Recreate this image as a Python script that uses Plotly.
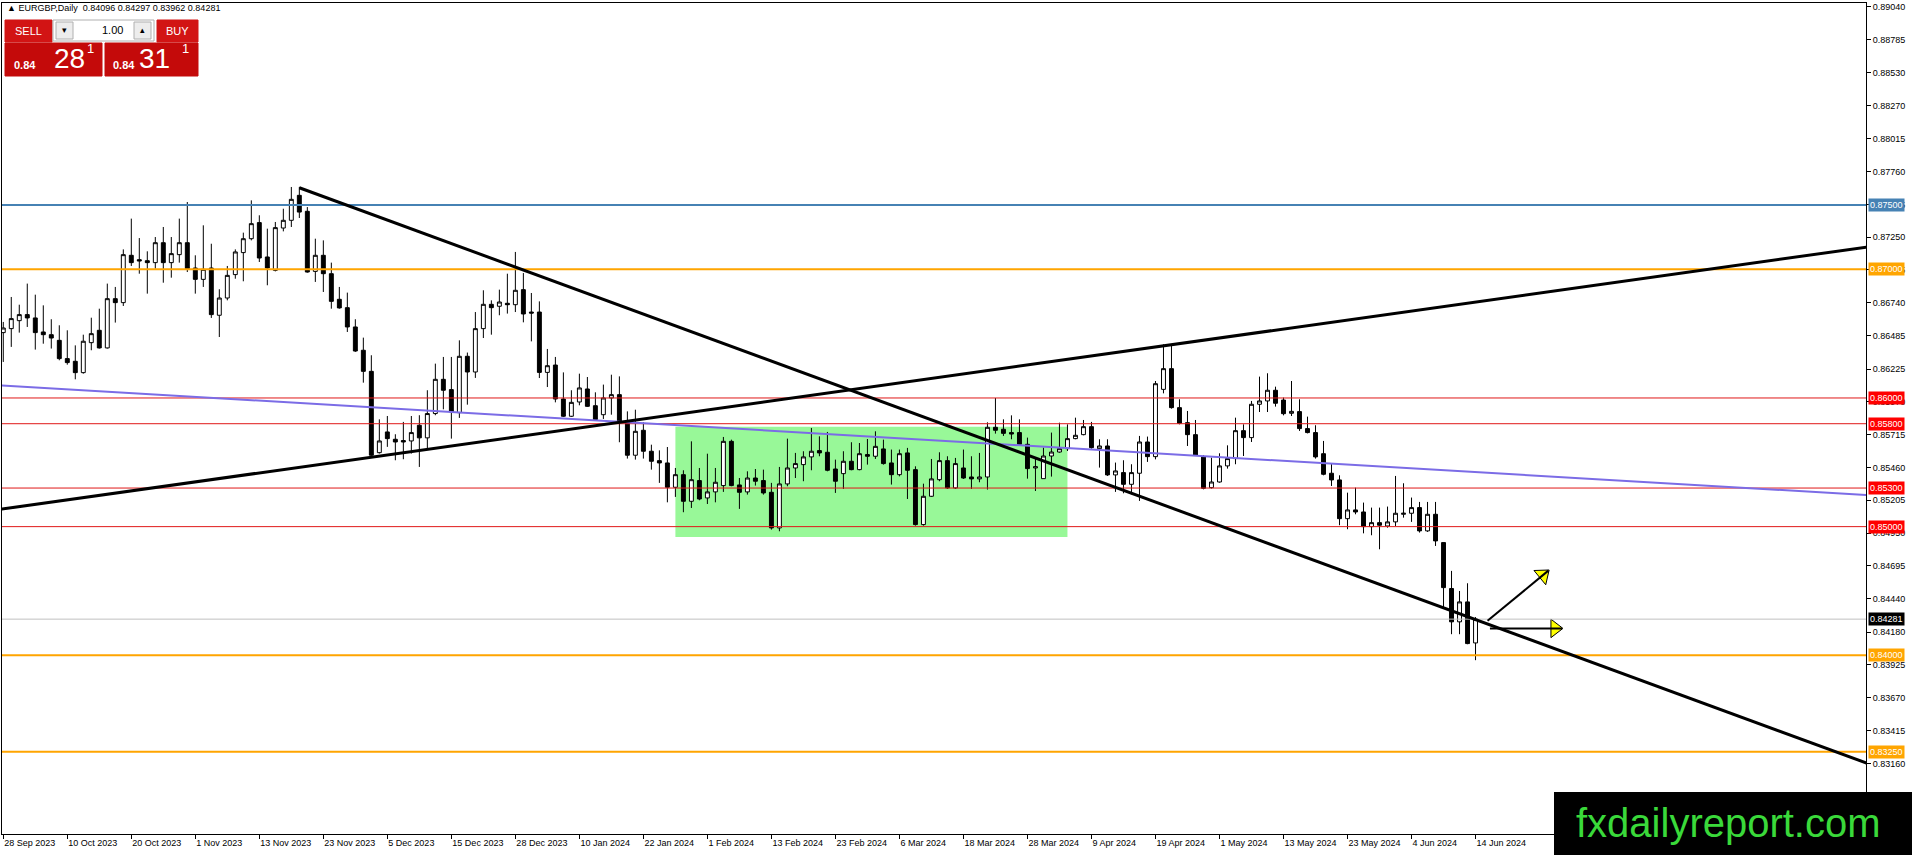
import math
import plotly.graph_objects as go

# EURGBP daily candles, 28 Sep 2023 .. 14 Jun 2024
opens = [
    0.86508, 0.86539, 0.86601, 0.86648, 0.86622, 0.86513, 0.86492, 0.86448, 0.86306, 0.86285,
    0.86197, 0.86430, 0.86526, 0.86389, 0.86772, 0.86741, 0.87109, 0.87075, 0.87067, 0.87052,
    0.87207, 0.87052, 0.87114, 0.87207, 0.87010, 0.86922, 0.87010, 0.86643, 0.86777, 0.86959,
    0.87130, 0.87238, 0.87363, 0.87096, 0.86992, 0.87321, 0.87381, 0.87575, 0.87451, 0.86984,
    0.87109, 0.86966, 0.86767, 0.86702, 0.86552, 0.86371, 0.86207, 0.85575, 0.85736, 0.85679,
    0.85669, 0.85666, 0.85788, 0.85690, 0.85879, 0.86145, 0.86065, 0.85886, 0.86324, 0.86202,
    0.86539, 0.86728, 0.86713, 0.86736, 0.86725, 0.86842, 0.86668, 0.86668, 0.86199, 0.86256,
    0.85992, 0.85858, 0.85969, 0.86070, 0.85940, 0.85870, 0.86000, 0.86026, 0.85806, 0.85555,
    0.85749, 0.85586, 0.85513, 0.85495, 0.85306, 0.85404, 0.85197, 0.85358, 0.85223, 0.85270,
    0.85319, 0.85663, 0.85324, 0.85270, 0.85378, 0.85358, 0.85267, 0.84990, 0.85332, 0.85456,
    0.85482, 0.85542, 0.85591, 0.85578, 0.85448, 0.85412, 0.85508, 0.85443, 0.85560, 0.85547,
    0.85604, 0.85495, 0.85404, 0.85573, 0.85443, 0.85016, 0.85236, 0.85365, 0.85513, 0.85301,
    0.85456, 0.85386, 0.85371, 0.85386, 0.85772, 0.85757, 0.85731, 0.85731, 0.85640, 0.85456,
    0.85373, 0.85549, 0.85580, 0.85606, 0.85684, 0.85715, 0.85777, 0.85606, 0.85627, 0.85402,
    0.85420, 0.85329, 0.85415, 0.85658, 0.85544, 0.86067, 0.86228, 0.85925, 0.85808, 0.85715,
    0.85544, 0.85303, 0.85347, 0.85472, 0.85529, 0.85746, 0.85692, 0.85951, 0.85977, 0.86060,
    0.85984, 0.85881, 0.85894, 0.85762, 0.85731, 0.85567, 0.85415, 0.85363, 0.85062, 0.85130,
    0.85114, 0.85000, 0.85031, 0.85005, 0.85037, 0.85096, 0.85104, 0.85148, 0.84967, 0.85096,
    0.84876, 0.84519, 0.84260, 0.84415, 0.84096,
]
highs = [
    0.86591, 0.86785, 0.86725, 0.86889, 0.86803, 0.86720, 0.86612, 0.86565, 0.86526, 0.86409,
    0.86492, 0.86624, 0.86694, 0.86889, 0.86863, 0.87155, 0.87394, 0.87243, 0.87140, 0.87251,
    0.87329, 0.87251, 0.87394, 0.87523, 0.87109, 0.87342, 0.87199, 0.86845, 0.87026, 0.87155,
    0.87285, 0.87536, 0.87420, 0.87316, 0.87368, 0.87471, 0.87640, 0.87640, 0.87484, 0.87238,
    0.87225, 0.87052, 0.86863, 0.86819, 0.86612, 0.86469, 0.86332, 0.85834, 0.85860, 0.85718,
    0.85814, 0.85860, 0.85866, 0.86060, 0.86267, 0.86319, 0.86319, 0.86448, 0.86353, 0.86668,
    0.86837, 0.86759, 0.86842, 0.86966, 0.87135, 0.86971, 0.86816, 0.86751, 0.86381, 0.86319,
    0.86199, 0.86060, 0.86189, 0.86163, 0.86044, 0.86104, 0.86181, 0.86168, 0.85896, 0.85909,
    0.85811, 0.85637, 0.85593, 0.85619, 0.85456, 0.85438, 0.85663, 0.85456, 0.85567, 0.85456,
    0.85697, 0.85676, 0.85378, 0.85430, 0.85448, 0.85443, 0.85340, 0.85464, 0.85684, 0.85573,
    0.85586, 0.85767, 0.85702, 0.85736, 0.85521, 0.85586, 0.85656, 0.85650, 0.85681, 0.85741,
    0.85676, 0.85599, 0.85599, 0.85612, 0.85469, 0.85334, 0.85526, 0.85578, 0.85547, 0.85534,
    0.85599, 0.85547, 0.85573, 0.85811, 0.86000, 0.85834, 0.85865, 0.85834, 0.85692, 0.85536,
    0.85614, 0.85731, 0.85808, 0.85795, 0.85847, 0.85829, 0.85814, 0.85679, 0.85679, 0.85498,
    0.85516, 0.85485, 0.85705, 0.85700, 0.86132, 0.86417, 0.86417, 0.85990, 0.85899, 0.85829,
    0.85555, 0.85536, 0.85570, 0.85632, 0.85847, 0.85795, 0.85977, 0.86166, 0.86192, 0.86088,
    0.86003, 0.86132, 0.85990, 0.85855, 0.85788, 0.85666, 0.85492, 0.85399, 0.85264, 0.85303,
    0.85187, 0.85148, 0.85148, 0.85156, 0.85394, 0.85337, 0.85226, 0.85192, 0.85192, 0.85192,
    0.84876, 0.84656, 0.84500, 0.84560, 0.84297,
]
lows = [
    0.86280, 0.86397, 0.86508, 0.86552, 0.86376, 0.86422, 0.86384, 0.86293, 0.86259, 0.86145,
    0.86189, 0.86371, 0.86384, 0.86384, 0.86586, 0.86715, 0.87026, 0.86966, 0.86811, 0.87005,
    0.86896, 0.86935, 0.87052, 0.86979, 0.86811, 0.86863, 0.86622, 0.86474, 0.86759, 0.86927,
    0.86907, 0.87225, 0.87057, 0.86876, 0.86984, 0.87295, 0.87329, 0.87399, 0.86974, 0.86902,
    0.86824, 0.86694, 0.86694, 0.86513, 0.86358, 0.86119, 0.85542, 0.85568, 0.85620, 0.85516,
    0.85524, 0.85568, 0.85464, 0.85601, 0.85866, 0.85912, 0.85684, 0.85845, 0.85948, 0.86156,
    0.86466, 0.86492, 0.86643, 0.86656, 0.86668, 0.86588, 0.86440, 0.86155, 0.86085, 0.85966,
    0.85852, 0.85852, 0.85943, 0.85930, 0.85826, 0.85837, 0.85870, 0.85656, 0.85529, 0.85521,
    0.85529, 0.85443, 0.85340, 0.85189, 0.85231, 0.85112, 0.85145, 0.85205, 0.85176, 0.85189,
    0.85270, 0.85314, 0.85138, 0.85249, 0.85319, 0.85249, 0.84977, 0.84964, 0.85314, 0.85378,
    0.85353, 0.85438, 0.85547, 0.85430, 0.85262, 0.85293, 0.85438, 0.85438, 0.85482, 0.85526,
    0.85482, 0.85327, 0.85391, 0.85215, 0.85008, 0.85008, 0.85231, 0.85353, 0.85293, 0.85293,
    0.85371, 0.85293, 0.85345, 0.85288, 0.85723, 0.85705, 0.85679, 0.85627, 0.85373, 0.85277,
    0.85373, 0.85389, 0.85575, 0.85588, 0.85679, 0.85710, 0.85606, 0.85459, 0.85394, 0.85270,
    0.85259, 0.85251, 0.85200, 0.85503, 0.85523, 0.86036, 0.85917, 0.85795, 0.85627, 0.85549,
    0.85290, 0.85296, 0.85342, 0.85451, 0.85485, 0.85549, 0.85658, 0.85891, 0.85891, 0.85933,
    0.85865, 0.85860, 0.85744, 0.85725, 0.85529, 0.85399, 0.85316, 0.85011, 0.84980, 0.85096,
    0.84948, 0.84933, 0.84824, 0.84992, 0.85005, 0.85070, 0.85037, 0.84954, 0.84959, 0.84850,
    0.84363, 0.84164, 0.84164, 0.84086, 0.83962,
]
closes = [
    0.86544, 0.86617, 0.86648, 0.86622, 0.86508, 0.86492, 0.86466, 0.86306, 0.86275, 0.86197,
    0.86441, 0.86500, 0.86389, 0.86772, 0.86741, 0.87114, 0.87052, 0.87065, 0.87052, 0.87207,
    0.87052, 0.87122, 0.87207, 0.87005, 0.86922, 0.87000, 0.86648, 0.86777, 0.86953, 0.87135,
    0.87238, 0.87355, 0.87088, 0.87010, 0.87324, 0.87381, 0.87544, 0.87445, 0.86979, 0.87109,
    0.86966, 0.86751, 0.86700, 0.86552, 0.86365, 0.86207, 0.85555, 0.85666, 0.85684, 0.85658,
    0.85658, 0.85731, 0.85690, 0.85879, 0.86145, 0.86060, 0.85891, 0.86324, 0.86202, 0.86539,
    0.86728, 0.86702, 0.86746, 0.86725, 0.86837, 0.86653, 0.86660, 0.86199, 0.86251, 0.85992,
    0.85858, 0.85966, 0.86078, 0.85935, 0.85832, 0.86000, 0.86026, 0.85819, 0.85555, 0.85741,
    0.85586, 0.85508, 0.85495, 0.85306, 0.85404, 0.85197, 0.85365, 0.85215, 0.85270, 0.85345,
    0.85663, 0.85319, 0.85267, 0.85378, 0.85353, 0.85262, 0.84990, 0.85332, 0.85456, 0.85490,
    0.85542, 0.85586, 0.85573, 0.85438, 0.85353, 0.85508, 0.85443, 0.85567, 0.85547, 0.85624,
    0.85490, 0.85404, 0.85567, 0.85438, 0.85016, 0.85236, 0.85371, 0.85513, 0.85301, 0.85490,
    0.85378, 0.85371, 0.85386, 0.85772, 0.85749, 0.85725, 0.85720, 0.85640, 0.85451, 0.85466,
    0.85549, 0.85580, 0.85606, 0.85684, 0.85710, 0.85777, 0.85614, 0.85627, 0.85402, 0.85433,
    0.85329, 0.85420, 0.85658, 0.85544, 0.86111, 0.86228, 0.85925, 0.85803, 0.85715, 0.85555,
    0.85298, 0.85347, 0.85472, 0.85529, 0.85746, 0.85692, 0.85951, 0.85977, 0.86060, 0.85959,
    0.85878, 0.85896, 0.85762, 0.85731, 0.85542, 0.85407, 0.85363, 0.85062, 0.85130, 0.85114,
    0.85000, 0.85031, 0.85011, 0.85037, 0.85104, 0.85104, 0.85148, 0.84967, 0.85096, 0.84889,
    0.84526, 0.84260, 0.84415, 0.84091, 0.84281,
]

date_labels = [
    "28 Sep 2023", "10 Oct 2023", "20 Oct 2023", "1 Nov 2023", "13 Nov 2023", "23 Nov 2023",
    "5 Dec 2023", "15 Dec 2023", "28 Dec 2023", "10 Jan 2024", "22 Jan 2024", "1 Feb 2024",
    "13 Feb 2024", "23 Feb 2024", "6 Mar 2024", "18 Mar 2024", "28 Mar 2024", "9 Apr 2024",
    "19 Apr 2024", "1 May 2024", "13 May 2024", "23 May 2024", "4 Jun 2024", "14 Jun 2024",
]
bars_per_label = 8

price_ticks = [
    0.83160, 0.83415, 0.83670, 0.83925, 0.84180, 0.84440, 0.84695, 0.84950, 0.85205, 0.85460,
    0.85715, 0.85970, 0.86225, 0.86485, 0.86740, 0.86995, 0.87250, 0.87505, 0.87760, 0.88015,
    0.88270, 0.88530, 0.88785, 0.89040,
]

# horizontal levels drawn on the chart
levels = [0.87500, 0.87000, 0.86000, 0.85800, 0.85300, 0.85000, 0.84000, 0.83250]
level_colors = ["#4682B4", "#FFA500", "#E01818", "#E01818", "#E01818", "#E01818", "#FFA500", "#FFA500"]
level_widths = [2, 2, 1, 1, 1, 1, 2, 2]
level_label_bg = ["#4682B4", "#FFA500", "#FF0000", "#FF0000", "#FF0000", "#FF0000", "#FFA500", "#FFA500"]
bid_price = 0.84281

# trend lines: two anchor points each (bar index, price)
down_trend = [(37, 0.87634), (184, 0.84278)]
up_trend = [(46, 0.85540), (145, 0.86405)]
slope_line = [(0, 0.86096), (184, 0.85424)]

# consolidation box: bar from, bar to, price low, price high
range_box = [84, 133, 0.84920, 0.85777]

# projection arrows: start and tip (bar index, price)
arrow_up = [(185.5, 0.84268), (193.1, 0.84658)]
arrow_flat = [(185.8, 0.84209), (194.8, 0.84209)]

W, H = 1912, 855
ML, MR, MT, MB = 2, 46, 3, 21
x_range = [-0.16, 232.8]
y_range = [0.82611, 0.89070]
px_per_bar = (W - ML - MR) / (x_range[1] - x_range[0])
px_per_price = (H - MT - MB) / (y_range[1] - y_range[0])


def paper_x(px):
    return (px - ML) / (W - ML - MR)


def paper_y(py):
    return (H - MB - py) / (H - MT - MB)


def extend(line, x0, x1):
    (a, pa), (b, pb) = line
    k = (pb - pa) / (b - a)
    return x0, pa + k * (x0 - a), x1, pa + k * (x1 - a)


font = "Liberation Sans, Arial, sans-serif"
bars = list(range(len(opens)))

fig = go.Figure()
fig.add_trace(go.Candlestick(
    x=bars, open=opens, high=highs, low=lows, close=closes,
    increasing=dict(line=dict(color="black", width=1), fillcolor="white"),
    decreasing=dict(line=dict(color="black", width=1), fillcolor="black"),
    whiskerwidth=0, hoverinfo="skip", showlegend=False,
))

shapes = []
# green consolidation rectangle (background)
shapes.append(dict(type="rect", xref="x", yref="y", x0=range_box[0], x1=range_box[1],
                   y0=range_box[2], y1=range_box[3], fillcolor="#98F898",
                   line=dict(width=0), layer="below"))

for p, c, w in zip(levels, level_colors, level_widths):
    shapes.append(dict(type="line", xref="paper", yref="y", x0=0, x1=1, y0=p, y1=p,
                       line=dict(color=c, width=w)))
shapes.append(dict(type="line", xref="paper", yref="y", x0=0, x1=1, y0=bid_price, y1=bid_price,
                   line=dict(color="#C0C0C0", width=1)))

sx0, sy0, sx1, sy1 = extend(slope_line, -2, 240)
shapes.append(dict(type="line", xref="x", yref="y", x0=sx0, y0=sy0, x1=sx1, y1=sy1,
                   line=dict(color="#7B6CE6", width=2)))
ux0, uy0, ux1, uy1 = extend(up_trend, -2, 240)
shapes.append(dict(type="line", xref="x", yref="y", x0=ux0, y0=uy0, x1=ux1, y1=uy1,
                   line=dict(color="black", width=3)))
dx0, dy0, dx1, dy1 = extend(down_trend, down_trend[0][0], 240)
shapes.append(dict(type="line", xref="x", yref="y", x0=dx0, y0=dy0, x1=dx1, y1=dy1,
                   line=dict(color="black", width=3)))

# arrow shafts, heads are rotated triangle markers
head_x, head_y, head_ang = [], [], []
for (a, pa), (b, pb) in [arrow_up, arrow_flat]:
    shapes.append(dict(type="line", xref="x", yref="y", x0=a, y0=pa, x1=b, y1=pb,
                       line=dict(color="black", width=2)))
    ddx = (b - a) * px_per_bar
    ddy = (pb - pa) * px_per_price
    ln = (ddx ** 2 + ddy ** 2) ** 0.5
    back = 7
    head_x.append(b - ddx / ln * back / px_per_bar)
    head_y.append(pb - ddy / ln * back / px_per_price)
    head_ang.append(-math.degrees(math.atan2(ddy, ddx)))

fig.add_trace(go.Scatter(
    x=head_x, y=head_y, mode="markers", hoverinfo="skip", showlegend=False,
    marker=dict(symbol="triangle-right", size=16, angle=head_ang, color="#FFFF00",
                line=dict(color="black", width=1)),
))

# watermark box
shapes.append(dict(type="rect", xref="paper", yref="paper", x0=paper_x(1554), x1=paper_x(1915),
                   y0=paper_y(858), y1=paper_y(792), fillcolor="black", line=dict(width=0),
                   layer="above"))

# one click trading panel
panel = [
    (5, 52, 20, 42, "#D21414"),
    (53, 154, 20, 41, "#FFFFFF"),
    (157, 198, 20, 42, "#D21414"),
    (5, 102, 43, 76, "#C40A0A"),
    (105, 198, 43, 76, "#C40A0A"),
    (56, 73, 22, 39, "#EDEDED"),
    (134, 151, 22, 39, "#EDEDED"),
]
for x0, x1, y0, y1, c in panel:
    shapes.append(dict(type="rect", xref="paper", yref="paper", x0=paper_x(x0), x1=paper_x(x1),
                       y0=paper_y(y1), y1=paper_y(y0), fillcolor=c,
                       line=dict(color="#B0B0B0" if c in ("#FFFFFF", "#EDEDED") else c, width=1),
                       layer="above"))

annotations = []
for p, bg in zip(levels, level_label_bg):
    annotations.append(dict(x=1, xref="paper", y=p, yref="y", xanchor="left", yanchor="middle",
                            xshift=2, text=f"{p:.5f}", showarrow=False, bgcolor=bg, borderpad=1,
                            font=dict(family=font, size=9, color="white")))
annotations.append(dict(x=1, xref="paper", y=bid_price, yref="y", xanchor="left", yanchor="middle",
                        xshift=2, text=f"{bid_price:.5f}", showarrow=False, bgcolor="black",
                        borderpad=1, font=dict(family=font, size=9, color="white")))

annotations.append(dict(x=paper_x(1728), y=paper_y(823), xref="paper", yref="paper",
                        xanchor="center", yanchor="middle",
                        text="fxdailyreport.com", showarrow=False,
                        font=dict(family=font, size=40, color="#3AD93A")))

annotations.append(dict(x=paper_x(5), y=paper_y(8), xref="paper", yref="paper",
                        xanchor="left", yanchor="middle",
                        text="▲ EURGBP,Daily  0.84096 0.84297 0.83962 0.84281", showarrow=False,
                        font=dict(family=font, size=9, color="black")))

panel_text = [
    (28, 31, "SELL", 11, "white"),
    (177, 31, "BUY", 11, "white"),
    (112, 30, "1.00", 11, "black"),
    (64, 30, "▾", 9, "black"),
    (142, 30, "▴", 9, "black"),
    (25, 65, "<b>0.84</b>", 11, "white"),
    (69, 59, "28", 28, "white"),
    (90, 49, "1", 13, "white"),
    (124, 65, "<b>0.84</b>", 11, "white"),
    (154, 59, "31", 28, "white"),
    (185, 49, "1", 13, "white"),
]
for x, y, t, s, c in panel_text:
    annotations.append(dict(x=paper_x(x), y=paper_y(y), xref="paper", yref="paper", text=t,
                            xanchor="center", yanchor="middle",
                            showarrow=False, font=dict(family=font, size=s, color=c)))

fig.update_layout(
    width=W, height=H,
    margin=dict(l=ML, r=MR, t=MT, b=MB),
    paper_bgcolor="white", plot_bgcolor="white",
    showlegend=False,
    shapes=shapes,
    annotations=annotations,
    font=dict(family=font, size=9, color="black"),
    xaxis=dict(
        range=x_range, rangeslider=dict(visible=False),
        tickvals=[i * bars_per_label for i in range(len(date_labels))],
        ticktext=date_labels, ticklabelposition="outside right",
        ticks="outside", ticklen=4, tickcolor="black",
        showline=True, linecolor="black", linewidth=1, mirror=True,
        showgrid=False, zeroline=False, tickfont=dict(size=9),
    ),
    yaxis=dict(
        range=y_range, side="right",
        tickvals=price_ticks, ticktext=[f"{p:.5f}" for p in price_ticks],
        ticks="outside", ticklen=4, tickcolor="black",
        showline=True, linecolor="black", linewidth=1, mirror=True,
        showgrid=False, zeroline=False, tickfont=dict(size=9),
    ),
)

fig.write_html("out.html", config={"displayModeBar": False},
               post_script="document.body.style.margin='0px';")
